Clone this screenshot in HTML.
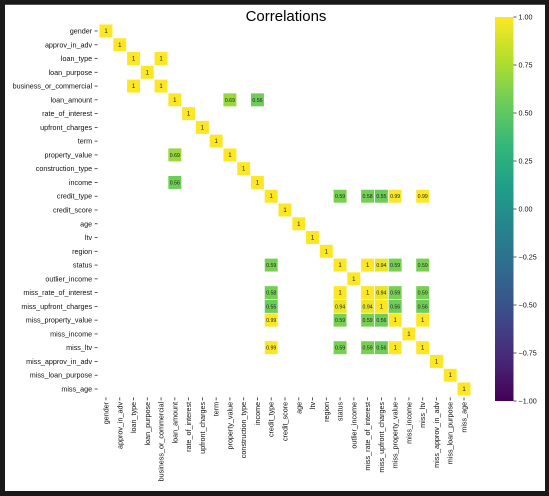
<!DOCTYPE html>
<html><head><meta charset="utf-8"><style>
html,body{margin:0;padding:0;background:#111;}
#wrap{position:relative;width:549px;height:496px;background:#1a1a1a;overflow:hidden;}
#panel{position:absolute;left:5px;top:4px;width:540px;height:486px;background:#fff;border-top:1px solid #555;}
svg{position:absolute;left:0;top:0;}
text{font-family:"Liberation Sans","DejaVu Sans",sans-serif;}
</style></head><body>
<div id="wrap">
<div id="panel"></div>
<svg id="chart" width="549" height="496"></svg>
</div>
<script>
const labels = ["gender","approv_in_adv","loan_type","loan_purpose","business_or_commercial","loan_amount","rate_of_interest","upfront_charges","term","property_value","construction_type","income","credit_type","credit_score","age","ltv","region","status","outlier_income","miss_rate_of_interest","miss_upfront_charges","miss_property_value","miss_income","miss_ltv","miss_approv_in_adv","miss_loan_purpose","miss_age"];
const pairRows = [2,5,5,12,12,12,12,12,17,17,17,17,19,19,19,20,20,21];
const pairCols = [4,9,11,17,19,20,21,23,19,20,21,23,20,21,23,21,23,23];
const pairVals = [1,0.69,0.56,0.59,0.58,0.55,0.99,0.99,1,0.94,0.59,0.59,0.94,0.59,0.59,0.56,0.56,1];
const cbTicks = [1,0.75,0.5,0.25,0,-0.25,-0.5,-0.75,-1];

const NS="http://www.w3.org/2000/svg";
const svg=document.getElementById('chart');
const x0=99.1,y0=24.1,cell=13.77;
const xPos=i=>x0+i*cell, yPos=i=>y0+i*cell;
const vir=[[68,1,84],[72,40,120],[62,74,137],[49,104,142],[38,130,142],[31,158,137],[53,183,121],[109,205,89],[180,222,44],[253,231,37]];
function viridis(v){let t=(v+1)/2;t=Math.max(0,Math.min(1,t))*9;const i=Math.min(8,Math.floor(t)),f=t-i;const a=vir[i],b=vir[i+1];return `rgb(${a.map((c,k)=>Math.round(c+(b[k]-c)*f)).join(',')})`;}
function el(tag,attrs){const e=document.createElementNS(NS,tag);for(const k in attrs)e.setAttribute(k,attrs[k]);svg.appendChild(e);return e;}

const title=el('text',{x:286,y:21,'text-anchor':'middle','font-size':15,fill:'#000'});
title.textContent='Correlations';



const n=labels.length;
const M=[];for(let i=0;i<n;i++){M.push(new Array(n).fill(null));M[i][i]=1;}
pairRows.forEach((r,k)=>{M[r][pairCols[k]]=pairVals[k];M[pairCols[k]][r]=pairVals[k];});
for(let i=0;i<n;i++)for(let j=0;j<n;j++){
  const v=M[i][j]; if(v===null||Math.abs(v)<=0.5) continue;
  const r=el('rect',{x:xPos(j)+0.4,y:yPos(i)+0.4,width:cell-0.8,height:cell-0.8,fill:viridis(v)});
  
  
  const t=el('text',{x:xPos(j)+cell/2,y:yPos(i)+cell/2+2,'text-anchor':'middle','font-size':v===1?6:5.2,fill:'#222'});
  t.textContent=(v===1?'1':String(v));
  
  
}
labels.forEach((lab,i)=>{
  const t=el('text',{x:x0-7,y:yPos(i)+cell/2+2.5,'text-anchor':'end','font-size':7.2,fill:'#111'});
  t.textContent=lab;
  
  
  const tk=el('line',{x1:x0-4.5,x2:x0-1.5,y1:yPos(i)+cell/2,y2:yPos(i)+cell/2,stroke:'#333','stroke-width':0.8});
  
  
  const cx=xPos(i)+cell/2;
  const t2=el('text',{x:0,y:0,'text-anchor':'end','font-size':7.2,fill:'#111',transform:`translate(${cx+2.5},${y0+n*cell+6}) rotate(-90)`});
  t2.textContent=lab;
  
  
  const tk2=el('line',{x1:cx,x2:cx,y1:y0+n*cell+1.5,y2:y0+n*cell+4.5,stroke:'#333','stroke-width':0.8});
  
  
});
// colorbar
const cbX=495,cbW=18.5,cbTop=17,cbBot=401;
const cbY=v=>cbTop+(1-v)/2*(cbBot-cbTop);
const defs=el('defs',{});
const g=document.createElementNS(NS,'linearGradient');g.setAttribute('id','vg');g.setAttribute('x1','0');g.setAttribute('y1','1');g.setAttribute('x2','0');g.setAttribute('y2','0');defs.appendChild(g);
vir.forEach((c,k)=>{const s=document.createElementNS(NS,'stop');s.setAttribute('offset',(k/9).toFixed(3));s.setAttribute('stop-color',`rgb(${c.join(',')})`);g.appendChild(s);});
const cb=el('rect',{x:cbX,y:cbTop,width:cbW,height:cbBot-cbTop,fill:'url(#vg)'});


cbTicks.forEach(v=>{
  const y=cbY(v);
  const l=el('line',{x1:cbX+cbW,x2:cbX+cbW+3,y1:y,y2:y,stroke:'#333','stroke-width':0.8});
  
  
  const t=el('text',{x:cbX+cbW+5,y:y+2.5,'font-size':7.2,fill:'#111'});
  t.textContent=(v<0?'\u2212':'')+Math.abs(v).toFixed(2);
  
  
});
</script>
</body></html>
